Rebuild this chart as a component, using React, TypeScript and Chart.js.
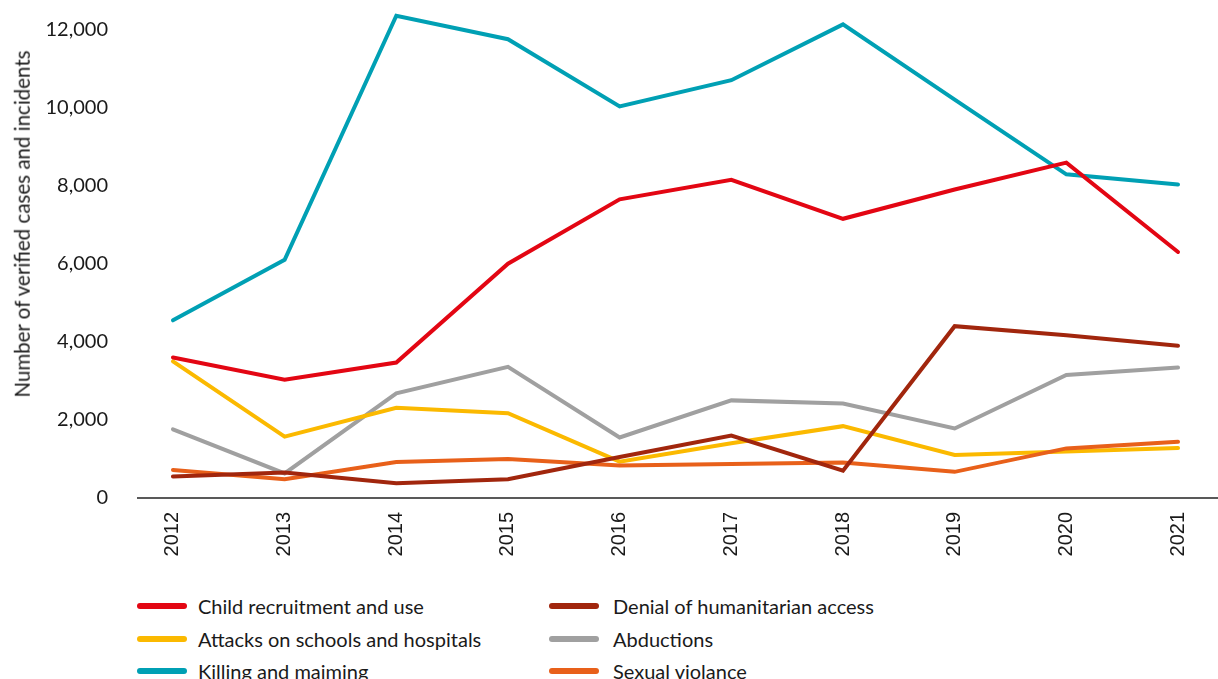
import React, { useEffect, useRef } from "react";
import { Chart, registerables } from "chart.js";

Chart.register(...registerables);

const years = [2012, 2013, 2014, 2015, 2016, 2017, 2018, 2019, 2020, 2021];
const childRecruitment = [3600, 3030, 3470, 6000, 7650, 8150, 7150, 7900, 8590, 6300];
const denialAccess = [550, 650, 380, 480, 1050, 1600, 700, 4400, 4170, 3900];
const attacksSchools = [3500, 1570, 2310, 2170, 930, 1400, 1840, 1100, 1190, 1280];
const abductions = [1760, 630, 2680, 3360, 1550, 2500, 2420, 1780, 3150, 3340];
const killingMaiming = [4550, 6100, 12350, 11750, 10030, 10700, 12130, 10200, 8290, 8030];
const sexualViolence = [720, 480, 920, 1000, 830, 870, 910, 670, 1270, 1440];
const yTicks = [0, 2000, 4000, 6000, 8000, 10000, 12000];

const seriesNames = [
  "Child recruitment and use",
  "Attacks on schools and hospitals",
  "Killing and maiming",
  "Denial of humanitarian access",
  "Abductions",
  "Sexual violance",
];
const seriesColors = ["#e30613", "#fbb900", "#00a0b4", "#a1260d", "#a0a0a0", "#e8601a"];
const seriesValues = [childRecruitment, attacksSchools, killingMaiming, denialAccess, abductions, sexualViolence];
const drawOrder = [1, 3, 5, 0, 4, 2];

const yAxisTitle = "Number of verified cases and incidents";

const CANVAS_W = 1218;
const CANVAS_H = 590;

export default function App() {
  const ref = useRef<HTMLCanvasElement | null>(null);

  useEffect(() => {
    if (!ref.current) return;
    const datasets = seriesNames.map((name, i) => ({
      label: name,
      data: years.map((yr, k) => ({ x: yr, y: seriesValues[i][k] })),
      borderColor: seriesColors[i],
      backgroundColor: seriesColors[i],
      borderWidth: 4,
      pointRadius: 0,
      pointHoverRadius: 0,
      tension: 0,
      fill: false,
      order: drawOrder[i],
      borderCapStyle: "round" as const,
      borderJoinStyle: "miter" as const,
    }));

    const chart = new Chart(ref.current, {
      type: "line",
      data: { datasets },
      options: {
        animation: false,
        responsive: false,
        layout: { padding: { top: 6, left: 0, right: 0, bottom: 0 } },
        plugins: {
          legend: { display: false },
          tooltip: { enabled: false },
        },
        scales: {
          x: {
            type: "linear",
            min: 2011.687,
            max: 2021.358,
            grid: { display: false, drawTicks: false },
            border: { display: true, color: "#595959", width: 2 },
            afterFit: (s: any) => {
              s.height = 92;
              s.paddingTop = 0;
              s.paddingBottom = 0;
            },
            afterBuildTicks: (s: any) => {
              s.ticks = years.map((v) => ({ value: v }));
            },
            ticks: {
              autoSkip: false,
              minRotation: 90,
              maxRotation: 90,
              padding: 14,
              color: "#1a1a1a",
              font: { family: "Liberation Sans", size: 20 },
              callback: (v: any) => String(v),
            },
          },
          y: {
            min: 0,
            max: 12600,
            grid: { display: false, drawTicks: false },
            border: { display: false },
            afterFit: (s: any) => {
              s.width = 138;
              s.paddingTop = 0;
              s.paddingBottom = 0;
            },
            afterBuildTicks: (s: any) => {
              s.ticks = yTicks.map((v) => ({ value: v }));
            },
            ticks: {
              autoSkip: false,
              padding: 30,
              color: "#1a1a1a",
              font: { family: "Lato", size: 20 },
              callback: (v: any) => Number(v).toLocaleString("en-US"),
            },
          },
        },
      },
    });
    return () => chart.destroy();
  }, []);

  const legendCols = [137, 549];
  const legendRows = [606, 639, 671];

  return (
    <div style={{ position: "absolute", left: 0, top: 0, width: CANVAS_W, height: 679, background: "#fff", overflow: "hidden" }}>
      <canvas ref={ref} width={CANVAS_W} height={CANVAS_H} style={{ position: "absolute", left: 0, top: 0, width: CANVAS_W, height: CANVAS_H }} />
      <div
        style={{
          position: "absolute",
          left: 22,
          top: 224,
          transform: "translate(-50%, -50%) rotate(-90deg)",
          whiteSpace: "nowrap",
          fontFamily: "Lato",
          fontSize: 20.5,
          color: "#1a1a1a",
          lineHeight: 1,
        }}
      >
        {yAxisTitle}
      </div>
      {seriesNames.map((name, i) => {
        const col = Math.floor(i / 3);
        const row = i % 3;
        const x = legendCols[col];
        const y = legendRows[row];
        return (
          <div key={name} style={{ position: "absolute", left: x, top: y - 12, height: 24, display: "flex", alignItems: "center" }}>
            <div style={{ width: 50, height: 6, borderRadius: 3, background: seriesColors[i] }} />
            <div
              style={{
                marginLeft: col === 0 ? 11 : 14,
                fontFamily: "Lato",
                fontSize: 20,
                color: "#1a1a1a",
                whiteSpace: "nowrap",
                lineHeight: 1,
              }}
            >
              {name}
            </div>
          </div>
        );
      })}
    </div>
  );
}
